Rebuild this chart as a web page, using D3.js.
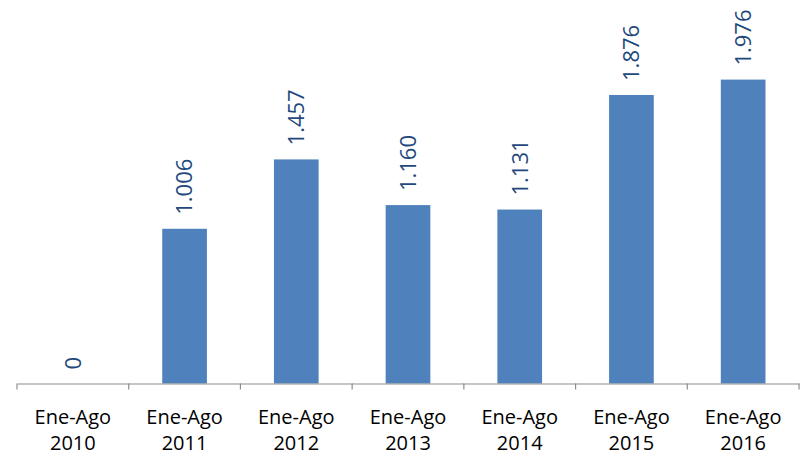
<!DOCTYPE html>
<html><head><meta charset="utf-8">
<script src="https://cdn.jsdelivr.net/npm/d3@7"></script>
<style>html,body{margin:0;padding:0;background:#fff;}</style>
</head><body>
<svg id="chart" width="801" height="457"></svg>
<script>
const periods = ["Ene-Ago", "Ene-Ago", "Ene-Ago", "Ene-Ago", "Ene-Ago", "Ene-Ago", "Ene-Ago"];
const years = ["2010", "2011", "2012", "2013", "2014", "2015", "2016"];
const values = [0, 1006, 1457, 1160, 1131, 1876, 1976];
const yMax = 2500;

const svg = d3.select("#chart");
const locale = d3.formatLocale({decimal: ",", thousands: ".", grouping: [3], currency: ["", ""]});
const fmt = locale.format(",.0f");

const x = d3.scaleBand().domain(years).range([17, 799]).paddingInner(0.6).paddingOuter(0.3);
const y = d3.scaleLinear().domain([0, yMax]).range([383.5, -1]);

svg.selectAll("rect.bar").data(values).join("rect")
  .attr("class", "bar")
  .attr("x", (d, i) => x(years[i]))
  .attr("width", x.bandwidth())
  .attr("y", d => y(d))
  .attr("height", d => y(0) - y(d))
  .attr("fill", "#4F81BD");

// axis
const axis = d3.axisBottom(x).tickSize(0).tickFormat("");
const gAxis = svg.append("g").attr("transform", `translate(0,${y(0)})`).call(axis);
gAxis.select(".domain").attr("stroke", "#8C8C8C").attr("stroke-width", 1.2);
gAxis.selectAll(".tick").remove();
const step = x.step();
const edges = d3.range(years.length + 1).map(i => x.range()[0] + i * step);
svg.append("g").selectAll("line").data(edges).join("line")
  .attr("x1", d => d).attr("x2", d => d)
  .attr("y1", y(0)).attr("y2", y(0) + 6)
  .attr("stroke", "#8C8C8C").attr("stroke-width", 1.2);

// category labels
const lab = svg.append("g").selectAll("text").data(years).join("text")
  .attr("text-anchor", "middle")
  .attr("font-family", "'Open Sans', sans-serif")
  .attr("font-size", 20)
  .attr("fill", "#000");
lab.append("tspan").attr("x", d => x(d) + x.bandwidth() / 2).attr("y", 424).text((d, i) => periods[i]);
lab.append("tspan").attr("x", d => x(d) + x.bandwidth() / 2).attr("y", 450).text(d => d);

// value labels
svg.append("g").selectAll("text").data(values).join("text")
  .attr("transform", (d, i) => `translate(${x(years[i]) + x.bandwidth() / 2},${y(d) - 14}) rotate(-90)`)
  .attr("text-anchor", "start")
  .attr("dy", "0.36em")
  .attr("font-family", "'Open Sans', sans-serif")
  .attr("font-size", 22)
  .attr("fill", "#1F497D")
  .text(d => fmt(d));
</script>
</body></html>
